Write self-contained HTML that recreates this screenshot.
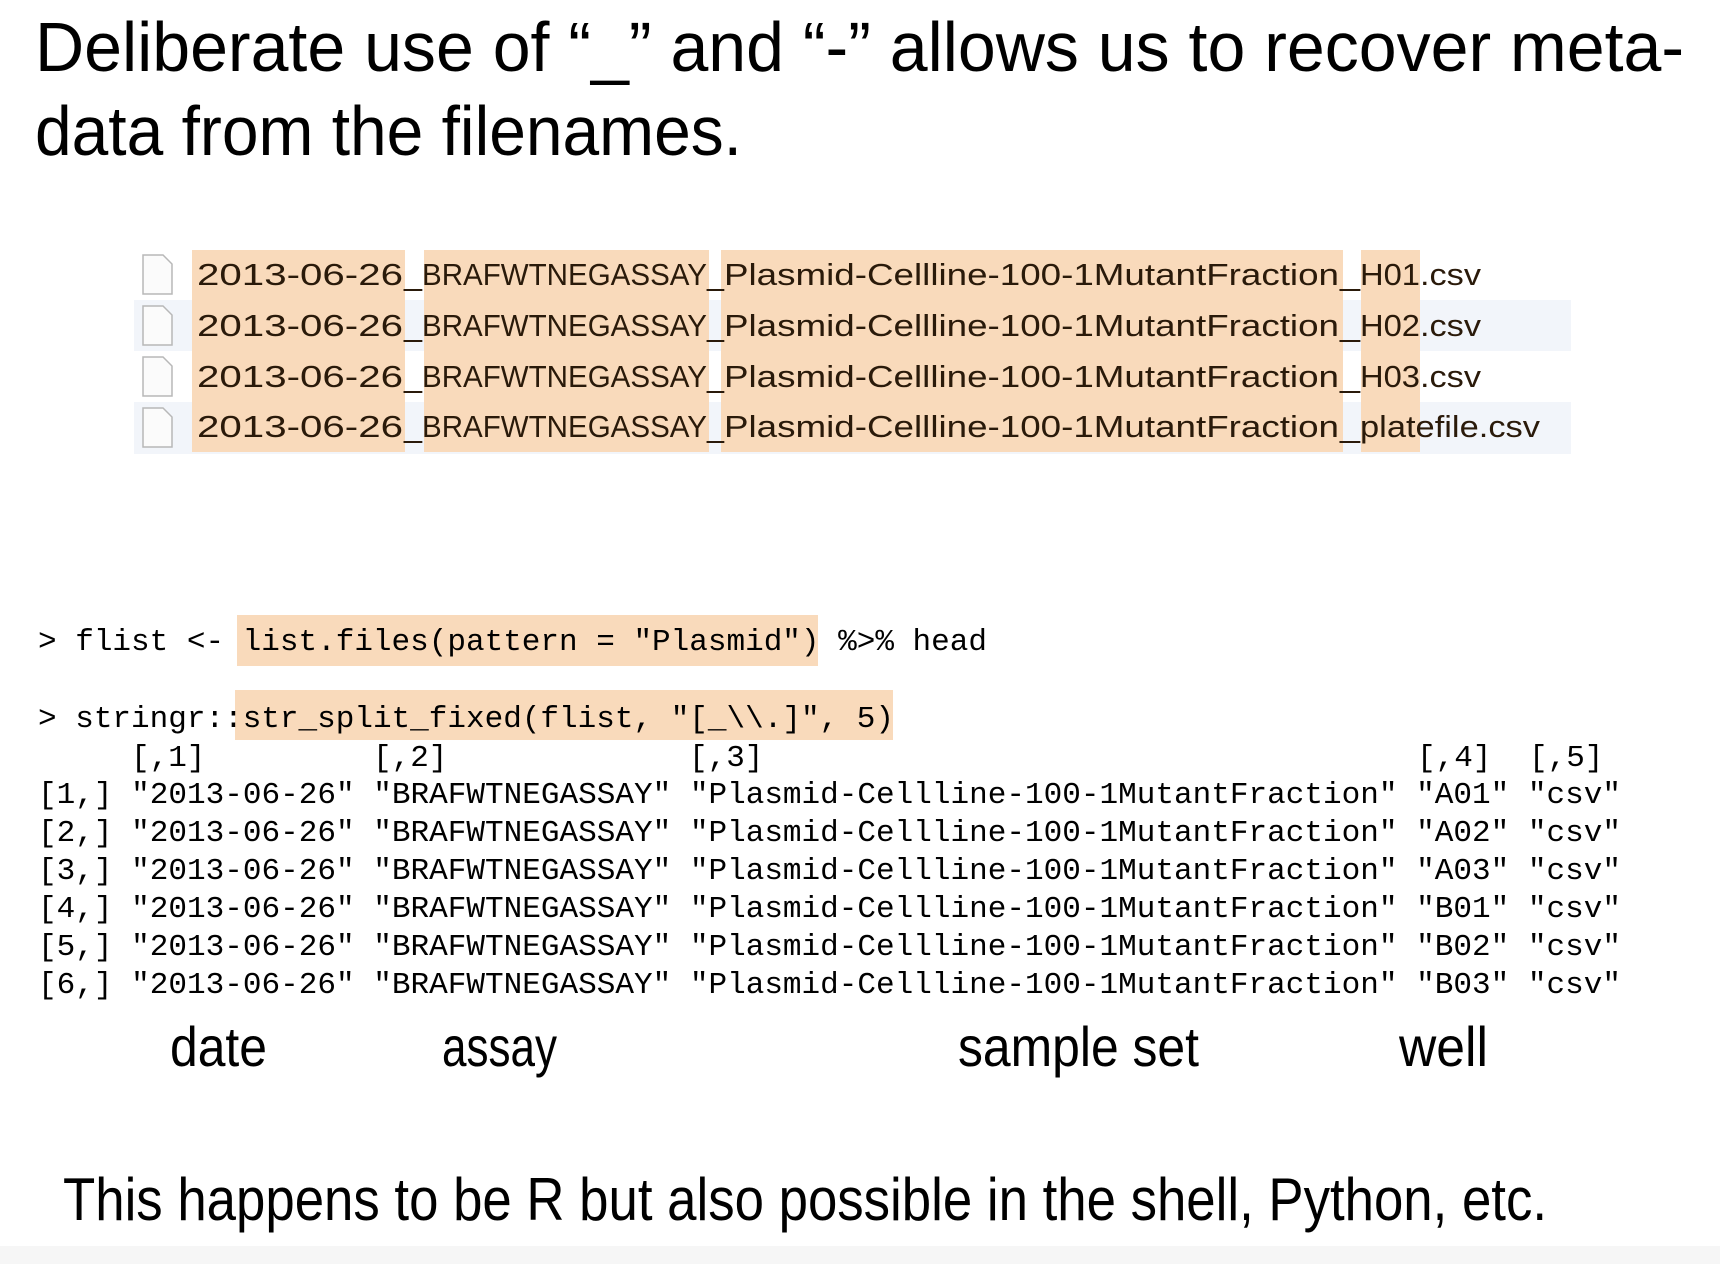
<!DOCTYPE html>
<html><head><meta charset="utf-8"><style>
html,body{margin:0;padding:0;background:#fff;}
svg{display:block;}
.t{font-family:"Liberation Sans",sans-serif;fill:#000;}
.m{font-family:"Liberation Mono",monospace;font-size:31px;fill:#000;}
.f{font-family:"Liberation Sans",sans-serif;font-size:31px;fill:#2a1a0a;}
</style></head><body>
<svg width="1720" height="1264" viewBox="0 0 1720 1264" xmlns="http://www.w3.org/2000/svg">
<defs>
<g id="seg">
</g>
</defs>
<rect x="0" y="0" width="1720" height="1264" fill="#fff"/>
<rect x="0" y="1246" width="1720" height="18" fill="#f6f6f6"/>
<text class="t" x="35" y="71" font-size="70" textLength="1649" lengthAdjust="spacingAndGlyphs">Deliberate use of “_” and “-” allows us to recover meta-</text>
<text class="t" x="35" y="155" font-size="70" textLength="707" lengthAdjust="spacingAndGlyphs">data from the filenames.</text>

<rect x="134" y="300" width="1437" height="51" fill="#f2f5fa"/>
<rect x="134" y="402" width="1437" height="52" fill="#f2f5fa"/>
<g fill="#f9dabb">
<rect x="192" y="250" width="213" height="202"/>
<rect x="424" y="250" width="285" height="202"/>
<rect x="721" y="250" width="622" height="202"/>
<rect x="1361" y="250" width="59" height="202"/>
</g>
<g fill="#fbfbfb" stroke="#b8b8b8" stroke-width="1.5">
<path d="M143 255 h20 l9 9 v30 h-29 z"/>
<path d="M143 306 h20 l9 9 v30 h-29 z"/>
<path d="M143 357 h20 l9 9 v30 h-29 z"/>
<path d="M143 408 h20 l9 9 v30 h-29 z"/>
</g>
<g class="f">
<text class="f" x="197" y="285" textLength="206" lengthAdjust="spacingAndGlyphs">2013-06-26</text>
<text class="f" x="404" y="285" textLength="18" lengthAdjust="spacingAndGlyphs">_</text>
<text class="f" x="422" y="285" textLength="285" lengthAdjust="spacingAndGlyphs">BRAFWTNEGASSAY</text>
<text class="f" x="707" y="285" textLength="17" lengthAdjust="spacingAndGlyphs">_</text>
<text class="f" x="724" y="285" textLength="615" lengthAdjust="spacingAndGlyphs">Plasmid-Cellline-100-1MutantFraction</text>
<text class="f" x="1340" y="285" textLength="20" lengthAdjust="spacingAndGlyphs">_</text>
<text class="f" x="1360" y="285" textLength="60" lengthAdjust="spacingAndGlyphs">H01</text>
<text class="f" x="1420" y="285" textLength="61" lengthAdjust="spacingAndGlyphs">.csv</text>

<text class="f" x="197" y="336" textLength="206" lengthAdjust="spacingAndGlyphs">2013-06-26</text>
<text class="f" x="404" y="336" textLength="18" lengthAdjust="spacingAndGlyphs">_</text>
<text class="f" x="422" y="336" textLength="285" lengthAdjust="spacingAndGlyphs">BRAFWTNEGASSAY</text>
<text class="f" x="707" y="336" textLength="17" lengthAdjust="spacingAndGlyphs">_</text>
<text class="f" x="724" y="336" textLength="615" lengthAdjust="spacingAndGlyphs">Plasmid-Cellline-100-1MutantFraction</text>
<text class="f" x="1340" y="336" textLength="20" lengthAdjust="spacingAndGlyphs">_</text>
<text class="f" x="1360" y="336" textLength="60" lengthAdjust="spacingAndGlyphs">H02</text>
<text class="f" x="1420" y="336" textLength="61" lengthAdjust="spacingAndGlyphs">.csv</text>

<text class="f" x="197" y="387" textLength="206" lengthAdjust="spacingAndGlyphs">2013-06-26</text>
<text class="f" x="404" y="387" textLength="18" lengthAdjust="spacingAndGlyphs">_</text>
<text class="f" x="422" y="387" textLength="285" lengthAdjust="spacingAndGlyphs">BRAFWTNEGASSAY</text>
<text class="f" x="707" y="387" textLength="17" lengthAdjust="spacingAndGlyphs">_</text>
<text class="f" x="724" y="387" textLength="615" lengthAdjust="spacingAndGlyphs">Plasmid-Cellline-100-1MutantFraction</text>
<text class="f" x="1340" y="387" textLength="20" lengthAdjust="spacingAndGlyphs">_</text>
<text class="f" x="1360" y="387" textLength="60" lengthAdjust="spacingAndGlyphs">H03</text>
<text class="f" x="1420" y="387" textLength="61" lengthAdjust="spacingAndGlyphs">.csv</text>

<text class="f" x="197" y="437" textLength="206" lengthAdjust="spacingAndGlyphs">2013-06-26</text>
<text class="f" x="404" y="437" textLength="18" lengthAdjust="spacingAndGlyphs">_</text>
<text class="f" x="422" y="437" textLength="285" lengthAdjust="spacingAndGlyphs">BRAFWTNEGASSAY</text>
<text class="f" x="707" y="437" textLength="17" lengthAdjust="spacingAndGlyphs">_</text>
<text class="f" x="724" y="437" textLength="615" lengthAdjust="spacingAndGlyphs">Plasmid-Cellline-100-1MutantFraction</text>
<text class="f" x="1340" y="437" textLength="20" lengthAdjust="spacingAndGlyphs">_</text>
<text class="f" x="1360" y="437" textLength="180" lengthAdjust="spacingAndGlyphs">platefile.csv</text>
</g>

<rect x="237" y="615" width="581" height="51" fill="#f9dabb"/>
<rect x="235" y="690" width="658" height="50" fill="#f9dabb"/>
<text class="m" x="38" y="650" textLength="949" lengthAdjust="spacingAndGlyphs" xml:space="preserve">&gt; flist &lt;- list.files(pattern = "Plasmid") %&gt;% head</text>
<text class="m" x="38" y="727" textLength="856" lengthAdjust="spacingAndGlyphs" xml:space="preserve">&gt; stringr::str_split_fixed(flist, "[_\\.]", 5)</text>
<text class="m" x="131" y="766">[,1]</text>
<text class="m" x="373" y="766">[,2]</text>
<text class="m" x="689" y="766">[,3]</text>
<text class="m" x="1417" y="766">[,4]</text>
<text class="m" x="1529" y="766">[,5]</text>
<g class="m">
<text class="m" x="38" y="803" textLength="1583" lengthAdjust="spacingAndGlyphs" xml:space="preserve">[1,] "2013-06-26" "BRAFWTNEGASSAY" "Plasmid-Cellline-100-1MutantFraction" "A01" "csv"</text>
<text class="m" x="38" y="841" textLength="1583" lengthAdjust="spacingAndGlyphs" xml:space="preserve">[2,] "2013-06-26" "BRAFWTNEGASSAY" "Plasmid-Cellline-100-1MutantFraction" "A02" "csv"</text>
<text class="m" x="38" y="879" textLength="1583" lengthAdjust="spacingAndGlyphs" xml:space="preserve">[3,] "2013-06-26" "BRAFWTNEGASSAY" "Plasmid-Cellline-100-1MutantFraction" "A03" "csv"</text>
<text class="m" x="38" y="917" textLength="1583" lengthAdjust="spacingAndGlyphs" xml:space="preserve">[4,] "2013-06-26" "BRAFWTNEGASSAY" "Plasmid-Cellline-100-1MutantFraction" "B01" "csv"</text>
<text class="m" x="38" y="955" textLength="1583" lengthAdjust="spacingAndGlyphs" xml:space="preserve">[5,] "2013-06-26" "BRAFWTNEGASSAY" "Plasmid-Cellline-100-1MutantFraction" "B02" "csv"</text>
<text class="m" x="38" y="993" textLength="1583" lengthAdjust="spacingAndGlyphs" xml:space="preserve">[6,] "2013-06-26" "BRAFWTNEGASSAY" "Plasmid-Cellline-100-1MutantFraction" "B03" "csv"</text>
</g>
<text class="t" x="170" y="1066" font-size="56" textLength="97" lengthAdjust="spacingAndGlyphs">date</text>
<text class="t" x="442" y="1066" font-size="56" textLength="115" lengthAdjust="spacingAndGlyphs">assay</text>
<text class="t" x="958" y="1066" font-size="56" textLength="241" lengthAdjust="spacingAndGlyphs">sample set</text>
<text class="t" x="1399" y="1066" font-size="56" textLength="89" lengthAdjust="spacingAndGlyphs">well</text>
<text class="t" x="63" y="1220" font-size="60" textLength="1484" lengthAdjust="spacingAndGlyphs">This happens to be R but also possible in the shell, Python, etc.</text>
</svg>
</body></html>
